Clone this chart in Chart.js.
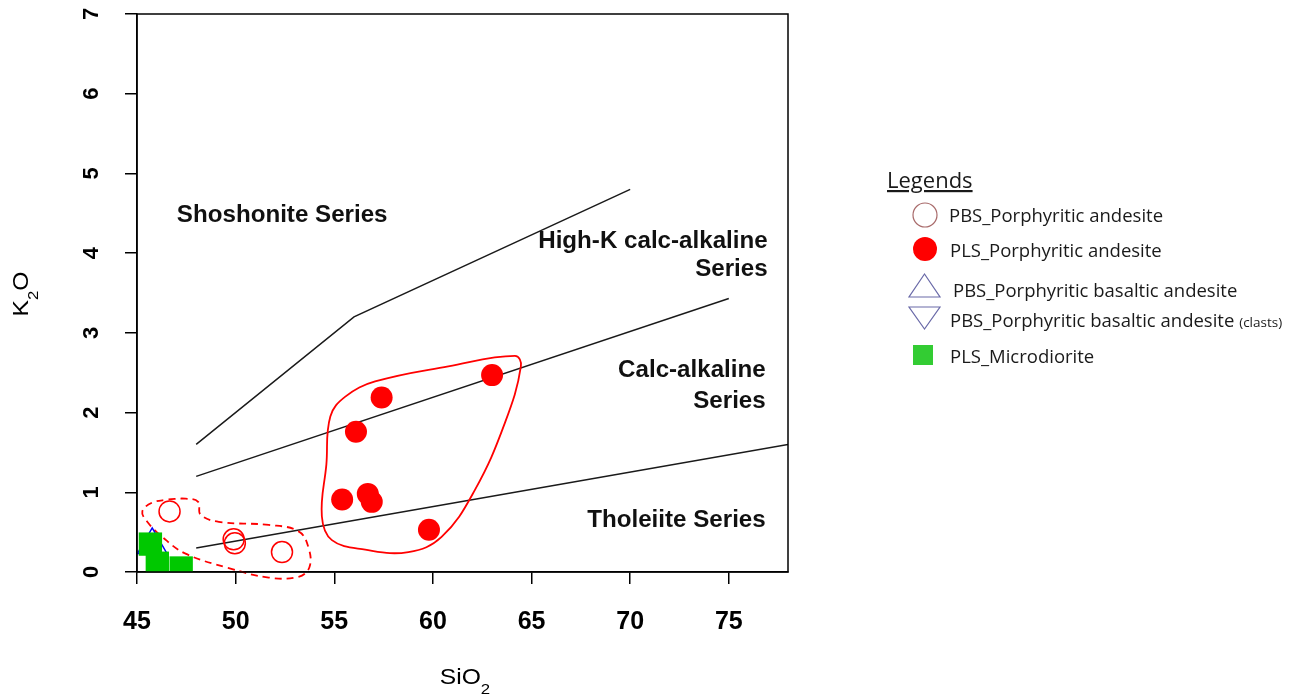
<!DOCTYPE html>
<html>
<head>
<meta charset="utf-8">
<script src="https://cdn.jsdelivr.net/npm/chart.js@4.4.1/dist/chart.umd.min.js"></script>
<style>
html, body { margin: 0; padding: 0; background: #fff; }
#wrap { position: relative; width: 1307px; height: 696px; }
#legend { position: absolute; left: 0; top: 0; pointer-events: none; }
#legend text { font-family: "Open Sans", sans-serif; fill: #1a1a1a; }
</style>
</head>
<body>
<div id="wrap">
<canvas id="chart" width="1307" height="696"></canvas>
<svg id="legend" width="1307" height="696">
  <text x="887" y="188" font-size="22" text-decoration="underline">Legends</text>

  <circle cx="925" cy="215" r="12" fill="none" stroke="#a86a6a" stroke-width="1.2"/>
  <text x="949" y="222" font-size="18.5">PBS_Porphyritic andesite</text>

  <circle cx="925" cy="249" r="12" fill="#ff0000"/>
  <text x="950" y="257" font-size="18.5">PLS_Porphyritic andesite</text>

  <polygon points="909,297 940,297 924.5,274" fill="none" stroke="#6a6aa8" stroke-width="1.2"/>
  <text x="953" y="297" font-size="18.5">PBS_Porphyritic basaltic andesite</text>

  <polygon points="909,307 940,307 924.5,329" fill="none" stroke="#6a6aa8" stroke-width="1.2"/>
  <text x="950" y="327" font-size="18.5">PBS_Porphyritic basaltic andesite <tspan font-size="13.5">(clasts)</tspan></text>

  <rect x="913" y="345" width="20" height="20" fill="#33cc33"/>
  <text x="950" y="363" font-size="18.5">PLS_Microdiorite</text>
</svg>
</div>
<script>
// ---- axes ----
const xTicks = [45, 50, 55, 60, 65, 70, 75];
const yTicks = [0, 1, 2, 3, 4, 5, 6, 7];

// ---- samples [SiO2, K2O] ----
const plsAndesite = [[63.0, 2.47], [57.4, 2.19], [56.1, 1.76], [55.4, 0.91], [56.7, 0.98], [56.9, 0.88], [59.8, 0.53]];
const pbsAndesite = [[46.65, 0.76], [49.9, 0.41], [49.96, 0.36], [52.35, 0.25]];
const pbsBasaltic = [[45.77, 0.34]];
const pbsBasalticClasts = [];
const plsMicrodiorite = [[45.68, 0.35], [46.03, 0.11], [47.24, 0.05]];

// ---- series boundaries ----
const shoshoniteLine = [[48, 1.6], [56, 3.2], [70, 4.8]];
const highKLine = [[48, 1.2], [75, 3.43]];
const calcAlkLine = [[48, 0.3], [78, 1.6]];

// ---- hand drawn group outlines ----
const plsOutline = [[54.6, 1.35], [54.37, 0.70], [54.88, 0.40], [56.57, 0.28], [58.76, 0.25], [60.44, 0.44],
  [62.13, 1.03], [63.65, 1.87], [64.46, 2.58], [64.16, 2.71], [60.78, 2.58], [57.07, 2.39], [55.56, 2.20],
  [54.80, 1.95], [54.6, 1.35]];
const pbsOutline = [[46.6, 0.91], [47.46, 0.92], [48.10, 0.88], [48.22, 0.72], [49.15, 0.63], [51.68, 0.59],
  [53.19, 0.51], [53.70, 0.30], [53.74, 0.06], [53.19, -0.06], [51.68, -0.07], [49.65, 0.05], [47.46, 0.23],
  [46.28, 0.44], [45.52, 0.63], [45.27, 0.76], [45.77, 0.87], [46.6, 0.91]];

// field names: [text, SiO2, K2O, align]
const fieldLabels = [
  ["Shoshonite Series", 47.02, 4.39, "left"],
  ["High-K calc-alkaline", 76.97, 4.07, "right"],
  ["Series", 76.97, 3.71, "right"],
  ["Calc-alkaline", 76.87, 2.45, "right"],
  ["Series", 76.87, 2.06, "right"],
  ["Tholeiite Series", 76.87, 0.56, "right"]
];

const pts = arr => arr.map(p => ({ x: p[0], y: p[1] }));

function boundary(arr) {
  return {
    data: pts(arr), showLine: true, pointRadius: 0, borderColor: "#1a1a1a",
    borderWidth: 1.5, clip: 0
  };
}

// text with a subscript, centred on (0,0) after ctx is positioned; sx = horizontal stretch
function drawSub(ctx, parts, sx) {
  let w = 0;
  parts.forEach(p => { ctx.font = p[1] + "px 'Liberation Sans'"; w += ctx.measureText(p[0]).width; });
  ctx.scale(sx, 1);
  let cx = -w / 2;
  parts.forEach(p => {
    ctx.font = p[1] + "px 'Liberation Sans'";
    ctx.fillText(p[0], cx, p[2]);
    cx += ctx.measureText(p[0]).width;
  });
}

const overlay = {
  id: "overlay",
  afterDraw(chart) {
    const { ctx, chartArea: a, scales: { x, y } } = chart;
    ctx.save();
    ctx.strokeStyle = "#000";
    ctx.lineWidth = 1.5;
    ctx.strokeRect(a.left, a.top, a.right - a.left, a.bottom - a.top);

    ctx.fillStyle = "#000";
    ctx.font = "bold 22px 'Liberation Sans'";
    ctx.textAlign = "center";
    ctx.textBaseline = "middle";
    yTicks.forEach(v => {
      ctx.save();
      ctx.translate(92, y.getPixelForValue(v));
      ctx.rotate(-Math.PI / 2);
      ctx.fillText(String(v), 0, 0);
      ctx.restore();
    });

    ctx.fillStyle = "#111";
    ctx.font = "bold 23px 'Liberation Sans'";
    ctx.textBaseline = "alphabetic";
    fieldLabels.forEach(l => {
      ctx.save();
      ctx.translate(x.getPixelForValue(l[1]), y.getPixelForValue(l[2]));
      ctx.scale(1.05, 1);
      ctx.textAlign = l[3];
      ctx.fillText(l[0], 0, 0);
      ctx.restore();
    });

    ctx.fillStyle = "#000";
    ctx.textAlign = "left";
    ctx.save();
    ctx.translate(465, 684);
    drawSub(ctx, [["SiO", 22, 0], ["2", 15, 10]], 1.12);
    ctx.restore();
    ctx.save();
    ctx.translate(28, 294);
    ctx.rotate(-Math.PI / 2);
    drawSub(ctx, [["K", 22, 0], ["2", 15, 10], ["O", 22, 0]], 1.12);
    ctx.restore();
    ctx.restore();
  }
};

new Chart(document.getElementById("chart"), {
  type: "scatter",
  data: {
    datasets: [
      { data: pts(plsAndesite), pointStyle: "circle", pointRadius: 11, backgroundColor: "#ff0000", borderWidth: 0 },
      { data: pts(pbsAndesite), pointStyle: "circle", pointRadius: 10.5, backgroundColor: "rgba(0,0,0,0)", borderColor: "#ff0000", borderWidth: 1.5 },
      { data: pts(plsMicrodiorite), pointStyle: "rect", pointRadius: 16.5, backgroundColor: "#00c800", borderWidth: 0, clip: 0 },
      { data: pts(pbsBasaltic), pointStyle: "triangle", pointRadius: 17, backgroundColor: "rgba(0,0,0,0)", borderColor: "#0000ff", borderWidth: 1.5, clip: 0 },
      { data: pts(pbsBasalticClasts), pointStyle: "triangle", rotation: 180, pointRadius: 17, backgroundColor: "rgba(0,0,0,0)", borderColor: "#0000ff", borderWidth: 1.5, clip: 0 },
      { data: pts(plsOutline), showLine: true, pointRadius: 0, borderColor: "#ff0000", borderWidth: 1.8, tension: 0.4, clip: false, capBezierPoints: false },
      { data: pts(pbsOutline), showLine: true, pointRadius: 0, borderColor: "#ff0000", borderWidth: 1.8, borderDash: [7, 5], tension: 0.4, clip: false, capBezierPoints: false },
      boundary(shoshoniteLine),
      boundary(highKLine),
      boundary(calcAlkLine)
    ]
  },
  options: {
    responsive: false,
    animation: false,
    events: [],
    layout: { autoPadding: false, padding: { left: 0, right: 519, top: 14, bottom: 0 } },
    plugins: { legend: { display: false }, tooltip: { enabled: false } },
    scales: {
      x: {
        type: "linear", min: 45, max: 78,
        afterFit: s => { s.height = 124; },
        afterBuildTicks: s => { s.ticks = xTicks.map(v => ({ value: v })); },
        border: { display: true, color: "#000", width: 1.5 },
        grid: { drawOnChartArea: false, drawTicks: true, tickLength: 12, color: "#000", lineWidth: 1.5 },
        ticks: { color: "#000", padding: 23, font: { family: "'Liberation Sans'", size: 25, weight: "bold" } }
      },
      y: {
        type: "linear", min: 0, max: 7,
        afterFit: s => { s.width = 137; },
        afterBuildTicks: s => { s.ticks = yTicks.map(v => ({ value: v })); },
        border: { display: true, color: "#000", width: 1.5 },
        grid: { drawOnChartArea: false, drawTicks: true, tickLength: 12, color: "#000", lineWidth: 1.5 },
        ticks: { display: false }
      }
    }
  },
  plugins: [overlay]
});
</script>
</body>
</html>
